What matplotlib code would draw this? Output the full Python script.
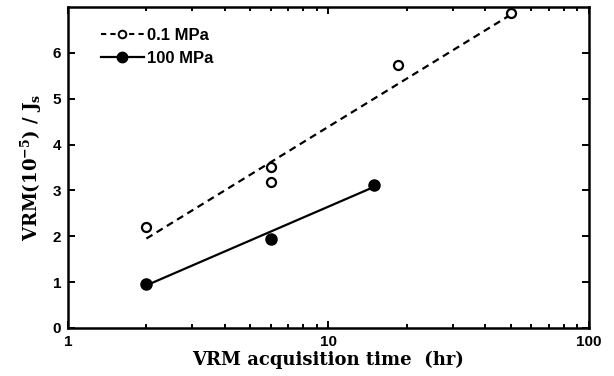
import numpy as np
import matplotlib.pyplot as plt
from matplotlib.ticker import LogLocator, NullFormatter, FixedLocator

t_01 = [2, 6, 6, 18.5, 50]
vrm_01 = [2.2, 3.5, 3.18, 5.73, 6.86]
t_100 = [2, 6, 15]
vrm_100 = [0.95, 1.95, 3.12]

fit_t_01 = [2, 50]
fit_vrm_01 = [1.95, 6.83]
fit_t_100 = [2, 15]
fit_vrm_100 = [0.93, 3.08]

xticks = [1, 10, 100]
yticks = [0, 1, 2, 3, 4, 5, 6]

plt.rcParams.update({"font.family": "Liberation Sans", "font.weight": "bold",
                     "mathtext.fontset": "dejavuserif"})
fig = plt.figure(figsize=(6.14, 3.76), dpi=100)
ax = fig.add_axes([0.1107, 0.1277, 0.8486, 0.8537])

ax.plot(fit_t_01, fit_vrm_01, "--", color="black", lw=1.6, dashes=(3.2, 2.2))
ax.plot(t_01, vrm_01, "o", mfc="white", mec="black", mew=1.6, ms=6.5, ls="none")
ax.plot(fit_t_100, fit_vrm_100, "-", color="black", lw=1.6)
ax.plot(t_100, vrm_100, "o", color="black", ms=8, ls="none")

# Legende
ax.plot([], [], "--o", color="black", mfc="white", mew=1.4, ms=5.5, dashes=(2.5, 2),
        label="0.1 MPa")
ax.plot([], [], "-o", color="black", ms=7.5, lw=1.6, label="100 MPa")
leg = ax.legend(loc="upper left", frameon=False, fontsize=12, handlelength=2.6,
                handletextpad=0.15, borderaxespad=0.0, labelspacing=0.45,
                bbox_to_anchor=(0.05, 0.955))

ax.set_xscale("log")
ax.set_xlim(1, 100)
ax.set_ylim(0, 7)
ax.xaxis.set_major_locator(FixedLocator(xticks))
ax.set_xticklabels([str(v) for v in xticks])
ax.xaxis.set_minor_locator(LogLocator(base=10, subs=np.arange(2, 10)))
ax.xaxis.set_minor_formatter(NullFormatter())
ax.set_yticks(yticks)

ax.tick_params(which="both", direction="in", top=True, right=True, labelsize=11,
               width=1.4)
ax.tick_params(which="major", length=5, pad=5)
ax.tick_params(which="minor", length=3)
for s in ax.spines.values():
    s.set_linewidth(1.8)

ax.set_xlabel("VRM acquisition time  (hr)", fontfamily="DejaVu Serif",
              fontweight="bold", fontsize=13, labelpad=1)
ax.set_ylabel(r"VRM(10$^{\mathbf{-5}}$) / J$_{\mathbf{s}}$", fontfamily="DejaVu Serif",
              fontweight="bold", fontsize=13, labelpad=6)

fig.savefig("out.png", dpi=100)
